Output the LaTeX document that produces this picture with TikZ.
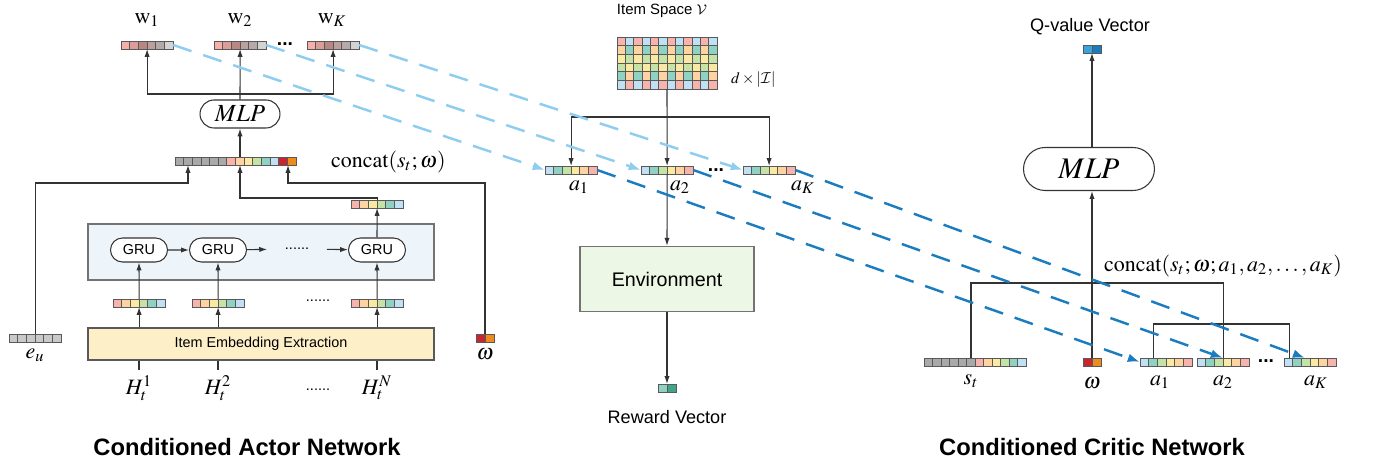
\documentclass[tikz,border=0pt]{standalone}
\usepackage{mathptmx}
\DeclareMathAlphabet{\mathcal}{OMS}{cmsy}{m}{n}
\usepackage{fontspec}
\setmainfont{Liberation Serif}
\setsansfont{Liberation Sans}
\usetikzlibrary{arrows.meta,shapes.misc}

\definecolor{pinkc}{HTML}{F9B3AD}
\definecolor{orangec}{HTML}{FDD3A1}
\definecolor{yellowc}{HTML}{FBE8A1}
\definecolor{greenc}{HTML}{C5E3A7}
\definecolor{tealc}{HTML}{8FD2C3}
\definecolor{bluec}{HTML}{BFE1F3}
\definecolor{grayc}{HTML}{A9A9A9}
\definecolor{lgrayc}{HTML}{C9C9C9}
\definecolor{redc}{HTML}{C9252F}
\definecolor{ambc}{HTML}{EE8B1A}
\definecolor{wca}{HTML}{F6B0A8}
\definecolor{wcb}{HTML}{D99E98}
\definecolor{wcc}{HTML}{B88783}
\definecolor{wcd}{HTML}{BBA09E}
\definecolor{wce}{HTML}{B5A9A9}
\definecolor{wcf}{HTML}{D3D3D3}
\definecolor{rwa}{HTML}{8FD2C3}
\definecolor{rwb}{HTML}{3FA68C}
\definecolor{qa}{HTML}{3BA3DC}
\definecolor{qb}{HTML}{1A7BBF}
\definecolor{skyA}{HTML}{8FCDF0}
\definecolor{skyB}{HTML}{1B7DC0}
\definecolor{gruback}{HTML}{EDF5FB}
\definecolor{extback}{HTML}{FDEFC8}
\definecolor{envback}{HTML}{EDF7E6}

% one row of coloured cells with a named node round it
\newcommand{\vecbar}[6]{%
  \node[vecnode, minimum width=#5*#4*0.02cm] (#1) at (#2+#5*#4/2,#3) {};
  \foreach \col [count=\k from 0] in {#6}
    \draw[cell, fill=\col] (#2+\k*#4,#3-4) rectangle ++(#4,8);
}

\begin{document}
\begin{tikzpicture}[x=0.02cm, y=-0.02cm,
    cell/.style={draw=black!65, line width=0.5pt},
    vecnode/.style={inner sep=0pt, outer sep=0pt, minimum height=0.16cm},
    ln/.style={draw=black!80, line width=0.6pt},
    arr/.style={ln, -{Latex[length=4.5pt,width=3pt]}},
    pill/.style={rounded rectangle, draw=black!80, fill=white, line width=0.6pt, inner sep=0pt},
    panel/.style={draw=black!55, line width=0.8pt, inner sep=0pt},
    lbl/.style={font=\fontsize{12.5}{14}\selectfont},
    sflbl/.style={font=\sffamily\fontsize{10.3}{12}\selectfont},
    small/.style={font=\sffamily\fontsize{8.2}{10}\selectfont},
    title/.style={font=\sffamily\bfseries\fontsize{13.5}{16}\selectfont},
    bdots/.style={font=\sffamily\bfseries\fontsize{11}{12}\selectfont, inner sep=0pt},
    lightdash/.style={draw=skyA, line width=1.4pt, dash pattern=on 11pt off 7pt, -{Latex[length=7pt,width=5pt]}},
    darkdash/.style={draw=skyB, line width=1.4pt, dash pattern=on 11pt off 7pt, -{Latex[length=7pt,width=5pt]}}]
  \useasboundingbox (0,0) rectangle (1374,465);

  %% actor network
  \vecbar{w1}{121}{45}{8.7}{6}{wca,wcb,wcc,wcd,wce,wcf}
  \vecbar{w2}{214}{45}{8.7}{6}{wca,wcb,wcc,wcd,wce,wcf}
  \vecbar{wK}{307}{45}{8.7}{6}{wca,wcb,wcc,wcd,wce,wcf}
  \node[lbl] (w1lab) at (147,20) {$\mathrm{w}_1$};
  \node[lbl] (w2lab) at (240,20) {$\mathrm{w}_2$};
  \node[lbl] (wKlab) at (332,20) {$\mathrm{w}_K$};
  \node[bdots] (wdots) at (285,44) {...};

  \node[pill, minimum width=1.6cm, minimum height=0.56cm, font=\fontsize{14}{16}\selectfont] (mlpA) at (240,114) {$MLP$};
  \coordinate (msplitA) at (240,94);
  \draw[arr] (mlpA.north) -- (w2.south);
  \draw[arr] (msplitA) -| (w1.south);
  \draw[arr] (msplitA) -| (wK.south);

  \vecbar{cat}{175}{161}{8.65}{14}{grayc,grayc,grayc,grayc,grayc,grayc,pinkc,orangec,yellowc,greenc,tealc,bluec,redc,ambc}
  \node[lbl, anchor=west] (catlab) at (325,162) {$\mathrm{concat}(s_t;\omega)$};
  \draw[arr] (mlpA.south |- cat.north) -- (mlpA.south);

  \node[panel, fill=gruback, minimum width=6.92cm, minimum height=1.12cm] (gbox) at (261,252) {};
  \node[pill, small, minimum width=1.14cm, minimum height=0.48cm] (g1) at (139,250) {GRU};
  \node[pill, small, minimum width=1.14cm, minimum height=0.48cm] (g2) at (218,250) {GRU};
  \node[pill, small, minimum width=1.14cm, minimum height=0.48cm] (g3) at (377,250) {GRU};
  \node[small, minimum width=1.18cm, inner sep=0pt] (gdots) at (297,249) {......};
  \draw[arr] (g1) -- (g2);
  \draw[arr] (g2) -- (gdots);
  \draw[arr] (gdots) -- (g3);

  \vecbar{hout}{351}{204}{8.7}{6}{pinkc,orangec,yellowc,greenc,tealc,bluec}
  \draw[arr] (g3.north) -- (hout.south);

  \vecbar{e1}{113}{303}{8.7}{6}{pinkc,orangec,yellowc,greenc,tealc,bluec}
  \vecbar{e2}{192}{303}{8.7}{6}{pinkc,orangec,yellowc,greenc,tealc,bluec}
  \vecbar{eN}{351}{303}{8.7}{6}{pinkc,orangec,yellowc,greenc,tealc,bluec}
  \node[small] (edots) at (318,301) {......};
  \draw[arr] (e1.north) -- (g1.south);
  \draw[arr] (e2.north) -- (g2.south);
  \draw[arr] (eN.north) -- (g3.south);

  \node[panel, draw=black!65, fill=extback, minimum width=6.92cm, minimum height=0.64cm, small] (iee) at (261,344) {Item Embedding Extraction};
  \draw[arr] (iee.north -| e1) -- (e1.south);
  \draw[arr] (iee.north -| e2) -- (e2.south);
  \draw[arr] (iee.north -| eN) -- (eN.south);

  \node[lbl] (h1) at (139,388) {$H_t^1$};
  \node[lbl] (h2) at (218,388) {$H_t^2$};
  \node[lbl] (hN) at (377,388) {$H_t^N$};
  \node[small] (hdots) at (318,390) {......};
  \draw[ln] (h1.north) -- (h1.north |- iee.south);
  \draw[ln] (h2.north) -- (h2.north |- iee.south);
  \draw[ln] (hN.north) -- (hN.north |- iee.south);

  \vecbar{eu}{9}{338}{8.7}{6}{lgrayc,lgrayc,lgrayc,lgrayc,lgrayc,lgrayc}
  \node[lbl] (eulab) at (35,355) {$e_u$};
  \vecbar{omA}{476}{338}{9}{2}{redc,ambc}
  \node[lbl] (omAlab) at (485,354) {$\omega$};

  \coordinate (kneeEu) at (188,183);
  \coordinate (kneeH) at (240,198);
  \coordinate (kneeW) at (288,183);
  \draw[arr] (eu.north) |- (kneeEu) -- (kneeEu |- cat.south);
  \draw[arr] (hout.north) |- (kneeH) -- (kneeH |- cat.south);
  \draw[arr] (omA.north) |- (kneeW) -- (kneeW |- cat.south);

  \node[title] (actT) at (247,447) {Conditioned Actor Network};

  %% item space and environment
  \node[font=\sffamily\fontsize{8.5}{10}\selectfont] (vlab) at (662,11) {Item Space $\mathcal{V}$};
  \node[inner sep=0pt, minimum width=2cm, minimum height=1.04cm] (mat) at (667,63) {};
  \foreach \r/\ca/\cb in {0/pinkc/bluec, 1/orangec/tealc, 2/yellowc/greenc,
                          3/greenc/yellowc, 4/tealc/orangec, 5/bluec/pinkc}
    \foreach \j in {0,2,...,10} {
      \draw[cell, fill=\ca] (617+\j*8.333,37+\r*8.667) rectangle ++(8.333,8.667);
      \draw[cell, fill=\cb] (617+\j*8.333+8.333,37+\r*8.667) rectangle ++(8.333,8.667);
    }
  \node[anchor=west, font=\fontsize{9}{11}\selectfont] (dimlab) at (725,80) {$d\times|\mathcal{I}|$};

  \vecbar{a1}{545}{170}{8.7}{6}{bluec,tealc,greenc,yellowc,orangec,pinkc}
  \vecbar{a2}{641}{170}{8.7}{6}{bluec,tealc,greenc,yellowc,orangec,pinkc}
  \vecbar{aK}{743}{170}{8.7}{6}{bluec,tealc,greenc,yellowc,orangec,pinkc}
  \node[bdots] (adots) at (716,170) {...};
  \node[lbl] (a1lab) at (579,187) {$a_1$};
  \node[lbl] (a2lab) at (680,187) {$a_2$};
  \node[lbl] (aKlab) at (803,187) {$a_K$};

  \coordinate (msplit) at (667,117);
  \draw[arr] (mat.south) -- (a2.north);
  \draw[arr] (msplit) -| (a1.north);
  \draw[arr] (msplit) -| (aK.north);

  \node[panel, fill=envback, minimum width=3.48cm, minimum height=1.3cm, font=\sffamily\fontsize{11.2}{13}\selectfont] (env) at (667,279) {Environment};
  \draw[arr] (a2.south) -- (env.north);
  \vecbar{rew}{658}{388}{9}{2}{rwa,rwb}
  \draw[arr] (env.south) -- (rew.north);
  \node[sflbl] (rewlab) at (667,417) {Reward Vector};

  %% critic network
  \node[sflbl] (qlab) at (1090,27) {Q-value Vector};
  \vecbar{qv}{1083}{49}{9}{2}{qa,qb}
  \node[pill, minimum width=2.62cm, minimum height=0.86cm, font=\fontsize{17}{19}\selectfont] (mlpC) at (1089,169) {$MLP$};
  \draw[arr] (qv.south |- mlpC.north) -- (qv.south);

  \vecbar{st}{924}{362}{8.5}{12}{grayc,grayc,grayc,grayc,grayc,grayc,pinkc,orangec,yellowc,greenc,tealc,bluec}
  \vecbar{omC}{1083}{362}{9}{2}{redc,ambc}
  \vecbar{ca1}{1140}{362}{8.7}{6}{bluec,tealc,greenc,yellowc,orangec,pinkc}
  \vecbar{ca2}{1197}{362}{8.7}{6}{bluec,tealc,greenc,yellowc,orangec,pinkc}
  \vecbar{caK}{1284}{362}{8.7}{6}{bluec,tealc,greenc,yellowc,orangec,pinkc}
  \node[bdots] (cdots) at (1266,361) {...};
  \node[lbl] (stlab) at (971,381) {$s_t$};
  \node[lbl] (omClab) at (1092,383) {$\omega$};
  \node[lbl] (ca1lab) at (1160,382) {$a_1$};
  \node[lbl] (ca2lab) at (1223,382) {$a_2$};
  \node[lbl] (caKlab) at (1316,382) {$a_K$};

  \draw[arr] (omC.north) -- (omC.north |- mlpC.south);
  \draw[ln] ([xshift=-0.08cm]st.north) |- (ca2.north |- 0,283) -- (ca2.north);
  \draw[ln] ([xshift=-0.26cm]ca1.north) |- ([xshift=-0.42cm]caK.north |- 0,324) -- ([xshift=-0.42cm]caK.north);
  \node[lbl, anchor=west] (clab) at (1098,266) {$\mathrm{concat}(s_t;\omega;a_1,a_2,\ldots,a_K)$};

  \node[title] (critT) at (1092,447) {Conditioned Critic Network};

  %% actions passed from actor to critic
  \draw[lightdash] (w1.east) -- (a1.west);
  \draw[lightdash] (w2.east) -- (a2.west);
  \draw[lightdash] (wK.east) -- (aK.west);
  \draw[darkdash] (a1.east) -- (ca1.west);
  \draw[darkdash] (a2.east) -- (ca2.north);
  \draw[darkdash] (aK.east) -- ([xshift=-0.1cm]caK.north);
\end{tikzpicture}
\end{document}
